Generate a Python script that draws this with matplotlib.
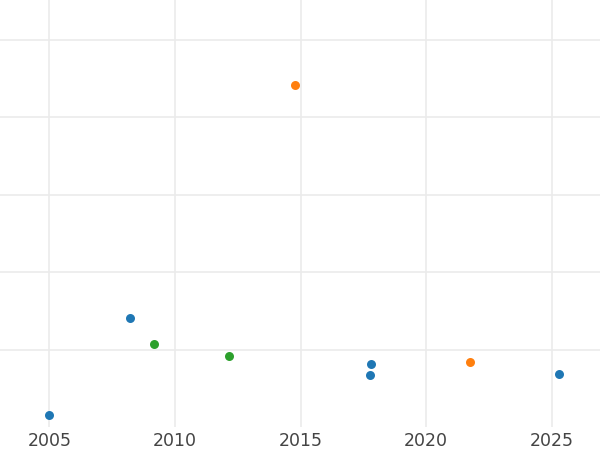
import matplotlib
matplotlib.use("Agg")
import matplotlib.pyplot as plt

# values (y units are arbitrary: the chart shows no y labels)
blue_x = [2005.0, 2008.2, 2017.8, 2017.77, 2025.3]
blue_y = [16, 141, 82, 68, 69]
orange_x = [2014.78, 2021.77]
orange_y = [442, 84]
green_x = [2009.16, 2012.17]
green_y = [108, 92]

year_ticks = [2005, 2010, 2015, 2020, 2025]
value_ticks = [100, 200, 300, 400, 500]

fig = plt.figure(figsize=(6, 4.5), dpi=100)
ax = fig.add_axes([0, 1 - 427 / 450, 1, 427 / 450])

ax.scatter(blue_x, blue_y, s=42, color="#1f77b4", zorder=3, linewidths=0)
ax.scatter(orange_x, orange_y, s=42, color="#ff7f0e", zorder=3, linewidths=0)
ax.scatter(green_x, green_y, s=42, color="#2ca02c", zorder=3, linewidths=0)

ax.set_xlim(2003.03, 2026.93)
ax.set_ylim(0.6, 551.6)
ax.set_xticks(year_ticks)
ax.set_yticks(value_ticks)
ax.set_yticklabels([])
ax.grid(True, color="#ebebeb", linewidth=1.2)
ax.set_axisbelow(True)
for s in ax.spines.values():
    s.set_visible(False)
ax.tick_params(axis="both", length=0, labelsize=12.5, labelcolor="#444444", pad=3.8)

fig.savefig("out.png", dpi=100)
